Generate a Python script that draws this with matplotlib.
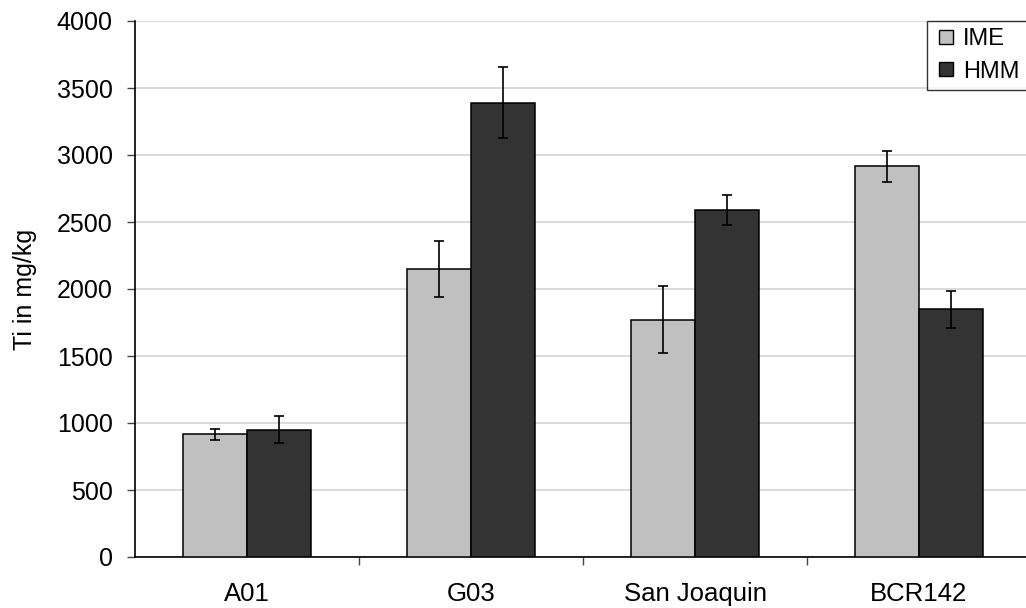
import numpy as np
import matplotlib.pyplot as plt
from matplotlib.lines import Line2D

plt.rcParams['font.family'] = ['Liberation Sans', 'DejaVu Sans']

categories = ['A01', 'G03', 'San Joaquin', 'BCR142']
ime = [915, 2150, 1770, 2915]
ime_err = [40, 210, 250, 115]
hmm = [950, 3390, 2590, 1848]
hmm_err = [100, 265, 115, 138]

fig = plt.figure(figsize=(10.26, 6.08), dpi=100)
ax = fig.add_axes([135/1026, 1 - 557/608, 896/1026, 536/608])

x = np.arange(len(categories))
w = 0.286
ax.bar(x - w/2, ime, w, color='#c0c0c0', edgecolor='black', linewidth=1.1, zorder=3)
ax.bar(x + w/2, hmm, w, color='#333333', edgecolor='black', linewidth=1.1, zorder=3)
ax.errorbar(x - w/2, ime, yerr=ime_err, fmt='none', ecolor='black', elinewidth=1.2, capsize=3.8, capthick=1.2, zorder=4)
ax.errorbar(x + w/2, hmm, yerr=hmm_err, fmt='none', ecolor='black', elinewidth=1.2, capsize=3.8, capthick=1.2, zorder=4)

ax.set_xlim(-0.5, 3.5)
ax.set_ylim(0, 4000)
ax.set_yticks(np.arange(0, 4001, 500))
ax.grid(axis='y', color='#d4d4d4', linewidth=1.2, zorder=0)
ax.set_xticks(x)
ax.set_xticklabels(categories, fontsize=18.5)
ax.tick_params(axis='x', length=0, pad=18)
ax.set_xticks([0.5, 1.5, 2.5], minor=True)
ax.tick_params(axis='x', which='minor', length=6, width=1, color='#444444')
ax.tick_params(axis='y', labelsize=18, length=6, width=1, color='#444444', pad=10)
for s in ['top', 'right']:
    ax.spines[s].set_visible(False)
ax.spines['left'].set_linewidth(1.2)
ax.spines['bottom'].set_linewidth(1.2)
ax.set_ylabel('Ti in mg/kg', fontsize=18, labelpad=14)

# legend with square markers
handles = [Line2D([], [], marker='s', linestyle='none', markersize=10.5,
                  markerfacecolor='#c0c0c0', markeredgecolor='black', label='IME'),
           Line2D([], [], marker='s', linestyle='none', markersize=10.5,
                  markerfacecolor='#333333', markeredgecolor='black', label='HMM')]
leg = fig.legend(handles=handles, loc='upper left', bbox_to_anchor=(927/1026, 1 - 21/608),
                 fontsize=17, frameon=True, fancybox=False, handlelength=1.0,
                 handletextpad=0.23, borderpad=0.3, labelspacing=0.45, borderaxespad=0)
leg.get_frame().set_edgecolor('black')
leg.get_frame().set_linewidth(1)

fig.savefig('out.png', dpi=100)
